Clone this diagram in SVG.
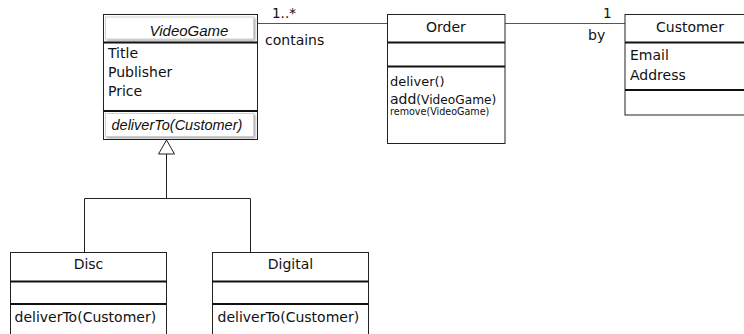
<svg xmlns="http://www.w3.org/2000/svg" width="744" height="334" viewBox="0 0 744 334">
  <style>
    .box { fill: #fff; stroke: #222; stroke-width: 1; }
    .div { stroke: #111; stroke-width: 2; }
    .inner { fill: #fff; stroke: #c8c8c8; stroke-width: 0.8; filter: url(#soft); }
    .conn { fill: none; stroke: #555; stroke-width: 1; }
    .t { font-family: "DejaVu Sans", "Liberation Sans", sans-serif; font-size: 14px; fill: #111; }
    .it { font-family: "Liberation Sans", Arial, sans-serif; font-style: italic; fill: #111; }
    .mid { text-anchor: middle; }
  </style>
  <defs>
    <filter id="soft" x="-5%" y="-20%" width="115%" height="160%">
      <feDropShadow dx="1.5" dy="1.5" stdDeviation="1" flood-color="#000" flood-opacity="0.35"/>
    </filter>
  </defs>

  <!-- associations and generalization -->
  <g id="connectors">
    <line class="conn" x1="257.5" y1="23.5" x2="387.5" y2="23.5"/>
    <line class="conn" x1="505" y1="23.5" x2="625" y2="23.5"/>
    <path class="conn" d="M84.5,252.5 V198.5 H250.5 V252.5 M166.5,198.5 V154" style="stroke:#222"/>
    <polygon points="166.5,140 158.5,154 174.5,154" fill="#fff" stroke="#222" stroke-width="1"/>
    <text class="t" x="272" y="18" style="font-size:13.5px">1..*</text>
    <text class="t" x="265" y="45">contains</text>
    <text class="t" x="603" y="18" style="font-size:13.5px">1</text>
    <text class="t" x="588" y="40">by</text>
  </g>

  <!-- abstract class -->
  <g id="VideoGame">
    <rect class="box" x="103.5" y="14.5" width="154" height="125"/>
    <rect class="inner" x="105.5" y="17" width="148" height="22"/>
    <line class="div" x1="103.5" y1="42.5" x2="257.5" y2="42.5"/>
    <line class="div" x1="103.5" y1="111" x2="257.5" y2="111"/>
    <rect class="inner" x="105.5" y="113.5" width="148" height="23"/>
    <text class="it mid" x="189" y="36" style="font-size:15px">VideoGame</text>
    <text class="t" x="108" y="58">Title</text>
    <text class="t" x="108" y="77">Publisher</text>
    <text class="t" x="108" y="96">Price</text>
    <text class="it" x="111.5" y="130" style="font-size:14.5px">deliverTo(Customer)</text>
  </g>

  <g id="Order">
    <rect class="box" x="387.5" y="14.5" width="117.5" height="129"/>
    <line class="div" x1="387.5" y1="42.5" x2="505" y2="42.5"/>
    <line class="div" x1="387.5" y1="66.5" x2="505" y2="66.5"/>
    <text class="t mid" x="446" y="31.5">Order</text>
    <text class="t" x="390" y="86" style="font-size:13px">deliver()</text>
    <text class="t" x="390" y="103.5">add<tspan style="font-size:12.2px">(VideoGame)</tspan></text>
    <text class="t" x="390" y="115" style="font-size:9.6px">remove(VideoGame)</text>
  </g>

  <g id="Customer">
    <rect class="box" x="625" y="14.5" width="130" height="100.5"/>
    <line class="div" x1="625" y1="42.5" x2="755" y2="42.5"/>
    <line class="div" x1="625" y1="90" x2="755" y2="90"/>
    <text class="t mid" x="690" y="31.5">Customer</text>
    <text class="t" x="630" y="59.5">Email</text>
    <text class="t" x="630" y="79.5">Address</text>
  </g>

  <g id="Disc">
    <rect class="box" x="10.5" y="252.5" width="156" height="90"/>
    <line class="div" x1="10.5" y1="281.5" x2="166.5" y2="281.5"/>
    <line class="div" x1="10.5" y1="304" x2="166.5" y2="304"/>
    <text class="t mid" x="88.5" y="269">Disc</text>
    <text class="t" x="14.5" y="321.5">deliverTo(Customer)</text>
  </g>

  <g id="Digital">
    <rect class="box" x="212.5" y="252.5" width="156" height="90"/>
    <line class="div" x1="212.5" y1="281.5" x2="368.5" y2="281.5"/>
    <line class="div" x1="212.5" y1="304" x2="368.5" y2="304"/>
    <text class="t mid" x="290.5" y="269">Digital</text>
    <text class="t" x="217.5" y="321.5">deliverTo(Customer)</text>
  </g>
</svg>
